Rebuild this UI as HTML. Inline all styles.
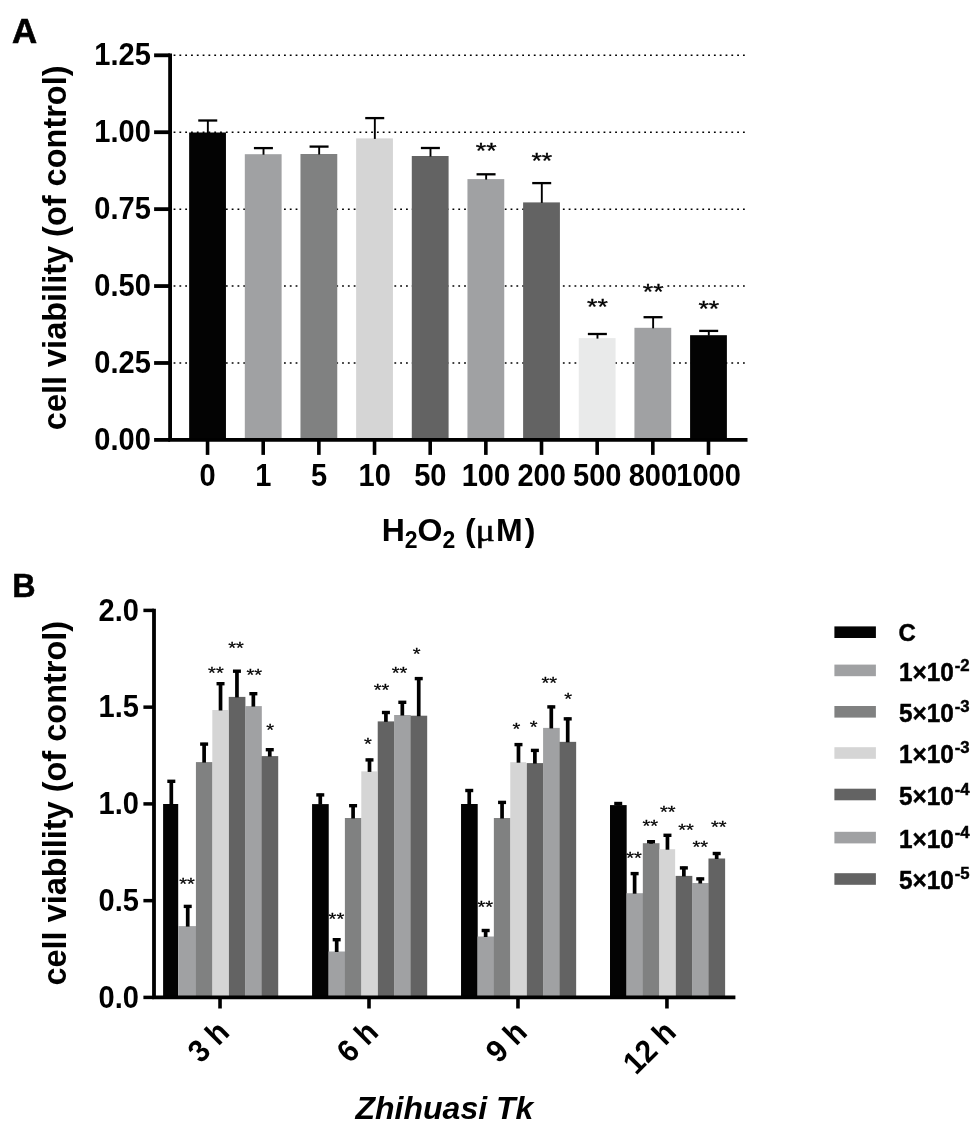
<!DOCTYPE html>
<html lang="en"><head><meta charset="utf-8"><title>Figure</title>
<style>html,body{margin:0;padding:0;background:#fff}svg{display:block;will-change:transform}</style></head>
<body>
<svg width="975" height="1125" viewBox="0 0 975 1125" font-family='"Liberation Sans", Arial, Helvetica, sans-serif' font-weight="bold" fill="#000">
<rect width="975" height="1125" fill="#fff"/>
<text transform="translate(11.90,42.80) scale(1.04,1.02)" font-size="33.5" text-anchor="start" stroke="#000" stroke-width="0.6">A</text>
<text transform="translate(12.30,596.80) scale(0.97,1.02)" font-size="33.3" text-anchor="start" stroke="#000" stroke-width="0.5">B</text>
<g id="panelA">
<line x1="173.6" y1="362.98" x2="747.4" y2="362.98" stroke="#000" stroke-width="1.5" stroke-dasharray="1.8 4.01"/>
<line x1="173.6" y1="286.06" x2="747.4" y2="286.06" stroke="#000" stroke-width="1.5" stroke-dasharray="1.8 4.01"/>
<line x1="173.6" y1="209.14" x2="747.4" y2="209.14" stroke="#000" stroke-width="1.5" stroke-dasharray="1.8 4.01"/>
<line x1="173.6" y1="132.22" x2="747.4" y2="132.22" stroke="#000" stroke-width="1.5" stroke-dasharray="1.8 4.01"/>
<line x1="173.6" y1="55.30" x2="747.4" y2="55.30" stroke="#000" stroke-width="1.5" stroke-dasharray="1.8 4.01"/>
<rect x="189.15" y="132.5" width="36.8" height="307.40" fill="#030303"/>
<path d="M207.85 133.0V120.5" stroke="#000" stroke-width="1.9" fill="none"/>
<path d="M198.25 120.5H217.25" stroke="#000" stroke-width="2.3" fill="none"/>
<rect x="244.81" y="154.2" width="36.8" height="285.70" fill="#a0a1a3"/>
<path d="M263.51 154.7V148.1" stroke="#000" stroke-width="1.9" fill="none"/>
<path d="M253.91 148.1H272.91" stroke="#000" stroke-width="2.3" fill="none"/>
<rect x="300.47" y="154.0" width="36.8" height="285.90" fill="#808181"/>
<path d="M319.17 154.5V146.6" stroke="#000" stroke-width="1.9" fill="none"/>
<path d="M309.57 146.6H328.57" stroke="#000" stroke-width="2.3" fill="none"/>
<rect x="356.13" y="138.4" width="36.8" height="301.50" fill="#d5d5d5"/>
<path d="M374.83 138.9V118.1" stroke="#000" stroke-width="1.9" fill="none"/>
<path d="M365.23 118.1H384.23" stroke="#000" stroke-width="2.3" fill="none"/>
<rect x="411.79" y="156.0" width="36.8" height="283.90" fill="#636363"/>
<path d="M430.49 156.5V148.0" stroke="#000" stroke-width="1.9" fill="none"/>
<path d="M420.89 148.0H439.89" stroke="#000" stroke-width="2.3" fill="none"/>
<rect x="467.45" y="179.1" width="36.8" height="260.80" fill="#a0a1a3"/>
<path d="M486.15 179.6V174.3" stroke="#000" stroke-width="1.9" fill="none"/>
<path d="M476.55 174.3H495.55" stroke="#000" stroke-width="2.3" fill="none"/>
<text transform="translate(486.15,158.34) scale(1.09,0.88)" font-size="24.5" text-anchor="middle" font-weight="normal" stroke="#000" stroke-width="0.35">**</text>
<rect x="523.11" y="202.4" width="36.8" height="237.50" fill="#636363"/>
<path d="M541.81 202.9V183.1" stroke="#000" stroke-width="1.9" fill="none"/>
<path d="M532.21 183.1H551.21" stroke="#000" stroke-width="2.3" fill="none"/>
<text transform="translate(541.81,168.04) scale(1.09,0.88)" font-size="24.5" text-anchor="middle" font-weight="normal" stroke="#000" stroke-width="0.35">**</text>
<rect x="578.77" y="338.1" width="36.8" height="101.80" fill="#e9eaea"/>
<path d="M597.47 338.6V334.0" stroke="#000" stroke-width="1.9" fill="none"/>
<path d="M587.87 334.0H606.87" stroke="#000" stroke-width="2.3" fill="none"/>
<text transform="translate(597.47,314.34) scale(1.09,0.88)" font-size="24.5" text-anchor="middle" font-weight="normal" stroke="#000" stroke-width="0.35">**</text>
<rect x="634.43" y="327.8" width="36.8" height="112.10" fill="#a0a1a3"/>
<path d="M653.13 328.3V317.2" stroke="#000" stroke-width="1.9" fill="none"/>
<path d="M643.53 317.2H662.53" stroke="#000" stroke-width="2.3" fill="none"/>
<rect x="639.83" y="280.9" width="26" height="12" fill="#fff"/>
<text transform="translate(653.13,298.94) scale(1.09,0.88)" font-size="24.5" text-anchor="middle" font-weight="normal" stroke="#000" stroke-width="0.35">**</text>
<rect x="690.09" y="335.2" width="36.8" height="104.70" fill="#030303"/>
<path d="M708.79 335.7V330.9" stroke="#000" stroke-width="1.9" fill="none"/>
<path d="M699.19 330.9H718.19" stroke="#000" stroke-width="2.3" fill="none"/>
<text transform="translate(708.79,316.44) scale(1.09,0.88)" font-size="24.5" text-anchor="middle" font-weight="normal" stroke="#000" stroke-width="0.35">**</text>
<path d="M170.1 53.4V441.79999999999995M168.2 439.9H747.5" stroke="#000" stroke-width="3.8" fill="none"/>
<line x1="154.1" y1="439.90" x2="170.1" y2="439.90" stroke="#000" stroke-width="3.8"/>
<text transform="translate(150.90,449.90) scale(0.985,1.065)" font-size="29.5" text-anchor="end">0.00</text>
<line x1="154.1" y1="362.98" x2="170.1" y2="362.98" stroke="#000" stroke-width="3.8"/>
<text transform="translate(150.90,372.98) scale(0.985,1.065)" font-size="29.5" text-anchor="end">0.25</text>
<line x1="154.1" y1="286.06" x2="170.1" y2="286.06" stroke="#000" stroke-width="3.8"/>
<text transform="translate(150.90,296.06) scale(0.985,1.065)" font-size="29.5" text-anchor="end">0.50</text>
<line x1="154.1" y1="209.14" x2="170.1" y2="209.14" stroke="#000" stroke-width="3.8"/>
<text transform="translate(150.90,219.14) scale(0.985,1.065)" font-size="29.5" text-anchor="end">0.75</text>
<line x1="154.1" y1="132.22" x2="170.1" y2="132.22" stroke="#000" stroke-width="3.8"/>
<text transform="translate(150.90,142.22) scale(0.985,1.065)" font-size="29.5" text-anchor="end">1.00</text>
<line x1="154.1" y1="55.30" x2="170.1" y2="55.30" stroke="#000" stroke-width="3.8"/>
<text transform="translate(150.90,65.30) scale(0.985,1.065)" font-size="29.5" text-anchor="end">1.25</text>
<line x1="207.55" y1="439.9" x2="207.55" y2="454.9" stroke="#000" stroke-width="3.6"/>
<text transform="translate(207.65,486.40) scale(0.985,1.065)" font-size="29.5" text-anchor="middle">0</text>
<line x1="263.21" y1="439.9" x2="263.21" y2="454.9" stroke="#000" stroke-width="3.6"/>
<text transform="translate(263.31,486.40) scale(0.985,1.065)" font-size="29.5" text-anchor="middle">1</text>
<line x1="318.87" y1="439.9" x2="318.87" y2="454.9" stroke="#000" stroke-width="3.6"/>
<text transform="translate(318.97,486.40) scale(0.985,1.065)" font-size="29.5" text-anchor="middle">5</text>
<line x1="374.53" y1="439.9" x2="374.53" y2="454.9" stroke="#000" stroke-width="3.6"/>
<text transform="translate(374.63,486.40) scale(0.985,1.065)" font-size="29.5" text-anchor="middle">10</text>
<line x1="430.19" y1="439.9" x2="430.19" y2="454.9" stroke="#000" stroke-width="3.6"/>
<text transform="translate(430.29,486.40) scale(0.985,1.065)" font-size="29.5" text-anchor="middle">50</text>
<line x1="485.85" y1="439.9" x2="485.85" y2="454.9" stroke="#000" stroke-width="3.6"/>
<text transform="translate(485.95,486.40) scale(0.985,1.065)" font-size="29.5" text-anchor="middle">100</text>
<line x1="541.51" y1="439.9" x2="541.51" y2="454.9" stroke="#000" stroke-width="3.6"/>
<text transform="translate(541.61,486.40) scale(0.985,1.065)" font-size="29.5" text-anchor="middle">200</text>
<line x1="597.17" y1="439.9" x2="597.17" y2="454.9" stroke="#000" stroke-width="3.6"/>
<text transform="translate(597.27,486.40) scale(0.985,1.065)" font-size="29.5" text-anchor="middle">500</text>
<line x1="652.83" y1="439.9" x2="652.83" y2="454.9" stroke="#000" stroke-width="3.6"/>
<text transform="translate(652.93,486.40) scale(0.985,1.065)" font-size="29.5" text-anchor="middle">800</text>
<line x1="708.49" y1="439.9" x2="708.49" y2="454.9" stroke="#000" stroke-width="3.6"/>
<text transform="translate(708.59,486.40) scale(0.985,1.065)" font-size="29.5" text-anchor="middle">1000</text>
<text transform="translate(66.2,247.8) rotate(-90)" font-size="32.5" text-anchor="middle">cell viability (of control)</text>
<text font-size="32" y="540.6"><tspan x="381.7">H</tspan><tspan font-size="23" dy="7.1">2</tspan><tspan dy="-7.1">O</tspan><tspan font-size="23" dy="7.1">2</tspan><tspan dy="-7.1" x="465">(</tspan><tspan x="496">M</tspan><tspan x="524.8">)</tspan></text>
<text transform="translate(475.6,540.6) scale(1.13,1)" font-size="32" font-weight="normal" stroke="#000" stroke-width="0.5" font-family="'Liberation Serif', 'DejaVu Serif', serif">μ</text>
</g>
<g id="panelB">
<rect x="163.10" y="804.00" width="15.10" height="193.40" fill="#030303"/>
<path d="M171.31 804.50V780.10" stroke="#000" stroke-width="3.7" fill="none"/>
<path d="M167.31 781.30H175.31" stroke="#000" stroke-width="3.4" fill="none"/>
<rect x="178.20" y="926.10" width="17.91" height="71.30" fill="#a0a1a3"/>
<path d="M187.72 926.60V905.20" stroke="#000" stroke-width="3.7" fill="none"/>
<path d="M183.72 906.40H191.72" stroke="#000" stroke-width="3.4" fill="none"/>
<rect x="195.92" y="762.10" width="16.66" height="235.30" fill="#808181"/>
<path d="M204.12 762.60V742.90" stroke="#000" stroke-width="3.7" fill="none"/>
<path d="M200.12 744.10H208.12" stroke="#000" stroke-width="3.4" fill="none"/>
<rect x="212.33" y="710.00" width="15.91" height="287.40" fill="#d5d5d5"/>
<path d="M220.53 710.50V682.50" stroke="#000" stroke-width="3.7" fill="none"/>
<path d="M216.53 683.70H224.53" stroke="#000" stroke-width="3.4" fill="none"/>
<rect x="228.74" y="696.90" width="16.66" height="300.50" fill="#636363"/>
<path d="M236.95 697.40V670.00" stroke="#000" stroke-width="3.7" fill="none"/>
<path d="M232.95 671.20H240.95" stroke="#000" stroke-width="3.4" fill="none"/>
<rect x="245.15" y="706.10" width="16.66" height="291.30" fill="#a0a1a3"/>
<path d="M253.35 706.60V692.50" stroke="#000" stroke-width="3.7" fill="none"/>
<path d="M249.35 693.70H257.36" stroke="#000" stroke-width="3.4" fill="none"/>
<rect x="261.56" y="756.10" width="16.66" height="241.30" fill="#636363"/>
<path d="M269.76 756.60V748.50" stroke="#000" stroke-width="3.7" fill="none"/>
<path d="M265.76 749.70H273.76" stroke="#000" stroke-width="3.4" fill="none"/>
<rect x="312.07" y="804.10" width="16.66" height="193.30" fill="#030303"/>
<path d="M320.27 804.60V793.70" stroke="#000" stroke-width="3.7" fill="none"/>
<path d="M316.27 794.90H324.27" stroke="#000" stroke-width="3.4" fill="none"/>
<rect x="328.48" y="951.50" width="16.66" height="45.90" fill="#a0a1a3"/>
<path d="M336.69 952.00V938.50" stroke="#000" stroke-width="3.7" fill="none"/>
<path d="M332.69 939.70H340.69" stroke="#000" stroke-width="3.4" fill="none"/>
<rect x="344.89" y="818.00" width="16.66" height="179.40" fill="#808181"/>
<path d="M353.09 818.50V804.50" stroke="#000" stroke-width="3.7" fill="none"/>
<path d="M349.09 805.70H357.09" stroke="#000" stroke-width="3.4" fill="none"/>
<rect x="361.30" y="771.40" width="15.91" height="226.00" fill="#d5d5d5"/>
<path d="M369.50 771.90V758.70" stroke="#000" stroke-width="3.7" fill="none"/>
<path d="M365.50 759.90H373.50" stroke="#000" stroke-width="3.4" fill="none"/>
<rect x="377.71" y="721.40" width="16.66" height="276.00" fill="#636363"/>
<path d="M385.91 721.90V711.30" stroke="#000" stroke-width="3.7" fill="none"/>
<path d="M381.91 712.50H389.91" stroke="#000" stroke-width="3.4" fill="none"/>
<rect x="394.12" y="715.00" width="16.66" height="282.40" fill="#a0a1a3"/>
<path d="M402.32 715.50V701.10" stroke="#000" stroke-width="3.7" fill="none"/>
<path d="M398.32 702.30H406.32" stroke="#000" stroke-width="3.4" fill="none"/>
<rect x="410.53" y="715.70" width="16.66" height="281.70" fill="#636363"/>
<path d="M418.73 716.20V677.40" stroke="#000" stroke-width="3.7" fill="none"/>
<path d="M414.73 678.60H422.73" stroke="#000" stroke-width="3.4" fill="none"/>
<rect x="461.04" y="804.00" width="16.66" height="193.40" fill="#030303"/>
<path d="M469.24 804.50V789.30" stroke="#000" stroke-width="3.7" fill="none"/>
<path d="M465.24 790.50H473.24" stroke="#000" stroke-width="3.4" fill="none"/>
<rect x="477.45" y="936.50" width="16.66" height="60.90" fill="#a0a1a3"/>
<path d="M485.65 937.00V929.30" stroke="#000" stroke-width="3.7" fill="none"/>
<path d="M481.65 930.50H489.65" stroke="#000" stroke-width="3.4" fill="none"/>
<rect x="493.86" y="818.00" width="16.66" height="179.40" fill="#808181"/>
<path d="M502.06 818.50V801.20" stroke="#000" stroke-width="3.7" fill="none"/>
<path d="M498.06 802.40H506.06" stroke="#000" stroke-width="3.4" fill="none"/>
<rect x="510.27" y="762.20" width="15.91" height="235.20" fill="#d5d5d5"/>
<path d="M518.48 762.70V743.40" stroke="#000" stroke-width="3.7" fill="none"/>
<path d="M514.48 744.60H522.48" stroke="#000" stroke-width="3.4" fill="none"/>
<rect x="526.68" y="763.10" width="16.66" height="234.30" fill="#636363"/>
<path d="M534.88 763.60V749.20" stroke="#000" stroke-width="3.7" fill="none"/>
<path d="M530.88 750.40H538.88" stroke="#000" stroke-width="3.4" fill="none"/>
<rect x="543.09" y="727.90" width="16.66" height="269.50" fill="#a0a1a3"/>
<path d="M551.29 728.40V705.70" stroke="#000" stroke-width="3.7" fill="none"/>
<path d="M547.29 706.90H555.29" stroke="#000" stroke-width="3.4" fill="none"/>
<rect x="559.50" y="741.85" width="16.66" height="255.55" fill="#636363"/>
<path d="M567.71 742.35V717.65" stroke="#000" stroke-width="3.7" fill="none"/>
<path d="M563.71 718.85H571.71" stroke="#000" stroke-width="3.4" fill="none"/>
<rect x="610.01" y="805.10" width="16.66" height="192.30" fill="#030303"/>
<path d="M618.22 805.60V802.30" stroke="#000" stroke-width="3.7" fill="none"/>
<path d="M614.22 803.50H622.22" stroke="#000" stroke-width="3.4" fill="none"/>
<rect x="626.42" y="893.20" width="16.66" height="104.20" fill="#a0a1a3"/>
<path d="M634.62 893.70V872.40" stroke="#000" stroke-width="3.7" fill="none"/>
<path d="M630.62 873.60H638.62" stroke="#000" stroke-width="3.4" fill="none"/>
<rect x="642.83" y="843.20" width="16.66" height="154.20" fill="#808181"/>
<path d="M651.04 843.70V840.50" stroke="#000" stroke-width="3.7" fill="none"/>
<path d="M647.04 841.70H655.04" stroke="#000" stroke-width="3.4" fill="none"/>
<rect x="659.24" y="849.20" width="15.91" height="148.20" fill="#d5d5d5"/>
<path d="M667.45 849.70V834.10" stroke="#000" stroke-width="3.7" fill="none"/>
<path d="M663.45 835.30H671.45" stroke="#000" stroke-width="3.4" fill="none"/>
<rect x="675.65" y="875.90" width="16.66" height="121.50" fill="#636363"/>
<path d="M683.86 876.40V866.70" stroke="#000" stroke-width="3.7" fill="none"/>
<path d="M679.86 867.90H687.86" stroke="#000" stroke-width="3.4" fill="none"/>
<rect x="692.06" y="883.00" width="16.66" height="114.40" fill="#a0a1a3"/>
<path d="M700.26 883.50V877.70" stroke="#000" stroke-width="3.7" fill="none"/>
<path d="M696.26 878.90H704.26" stroke="#000" stroke-width="3.4" fill="none"/>
<rect x="708.47" y="858.50" width="16.66" height="138.90" fill="#636363"/>
<path d="M716.68 859.00V852.30" stroke="#000" stroke-width="3.7" fill="none"/>
<path d="M712.68 853.50H720.68" stroke="#000" stroke-width="3.4" fill="none"/>
<text transform="translate(187.10,890.48) scale(1.04,0.86)" font-size="19.3" text-anchor="middle" font-weight="normal" stroke="#000" stroke-width="0.3">**</text>
<text transform="translate(215.90,679.08) scale(1.04,0.86)" font-size="19.3" text-anchor="middle" font-weight="normal" stroke="#000" stroke-width="0.3">**</text>
<text transform="translate(236.00,654.38) scale(1.04,0.86)" font-size="19.3" text-anchor="middle" font-weight="normal" stroke="#000" stroke-width="0.3">**</text>
<text transform="translate(254.20,680.78) scale(1.04,0.86)" font-size="19.3" text-anchor="middle" font-weight="normal" stroke="#000" stroke-width="0.3">**</text>
<text transform="translate(270.10,735.78) scale(1.04,0.86)" font-size="19.3" text-anchor="middle" font-weight="normal" stroke="#000" stroke-width="0.3">*</text>
<text transform="translate(336.40,925.28) scale(1.04,0.86)" font-size="19.3" text-anchor="middle" font-weight="normal" stroke="#000" stroke-width="0.3">**</text>
<text transform="translate(367.80,750.38) scale(1.04,0.86)" font-size="19.3" text-anchor="middle" font-weight="normal" stroke="#000" stroke-width="0.3">*</text>
<text transform="translate(381.60,696.28) scale(1.04,0.86)" font-size="19.3" text-anchor="middle" font-weight="normal" stroke="#000" stroke-width="0.3">**</text>
<text transform="translate(399.50,679.38) scale(1.04,0.86)" font-size="19.3" text-anchor="middle" font-weight="normal" stroke="#000" stroke-width="0.3">**</text>
<text transform="translate(416.60,660.38) scale(1.04,0.86)" font-size="19.3" text-anchor="middle" font-weight="normal" stroke="#000" stroke-width="0.3">*</text>
<text transform="translate(485.20,913.38) scale(1.04,0.86)" font-size="19.3" text-anchor="middle" font-weight="normal" stroke="#000" stroke-width="0.3">**</text>
<text transform="translate(516.50,734.53) scale(1.04,0.86)" font-size="19.3" text-anchor="middle" font-weight="normal" stroke="#000" stroke-width="0.3">*</text>
<text transform="translate(533.70,733.48) scale(1.04,0.86)" font-size="19.3" text-anchor="middle" font-weight="normal" stroke="#000" stroke-width="0.3">*</text>
<text transform="translate(549.20,689.28) scale(1.04,0.86)" font-size="19.3" text-anchor="middle" font-weight="normal" stroke="#000" stroke-width="0.3">**</text>
<text transform="translate(568.20,705.08) scale(1.04,0.86)" font-size="19.3" text-anchor="middle" font-weight="normal" stroke="#000" stroke-width="0.3">*</text>
<text transform="translate(634.10,863.58) scale(1.04,0.86)" font-size="19.3" text-anchor="middle" font-weight="normal" stroke="#000" stroke-width="0.3">**</text>
<text transform="translate(650.20,831.68) scale(1.04,0.86)" font-size="19.3" text-anchor="middle" font-weight="normal" stroke="#000" stroke-width="0.3">**</text>
<text transform="translate(667.70,818.38) scale(1.04,0.86)" font-size="19.3" text-anchor="middle" font-weight="normal" stroke="#000" stroke-width="0.3">**</text>
<text transform="translate(686.10,836.28) scale(1.04,0.86)" font-size="19.3" text-anchor="middle" font-weight="normal" stroke="#000" stroke-width="0.3">**</text>
<text transform="translate(700.30,852.78) scale(1.04,0.86)" font-size="19.3" text-anchor="middle" font-weight="normal" stroke="#000" stroke-width="0.3">**</text>
<text transform="translate(718.70,833.38) scale(1.04,0.86)" font-size="19.3" text-anchor="middle" font-weight="normal" stroke="#000" stroke-width="0.3">**</text>
<path d="M154.0 608.6999999999999V999.1999999999999M152.1 997.4H735.4" stroke="#000" stroke-width="3.8" fill="none"/>
<line x1="143.4" y1="997.40" x2="154.0" y2="997.40" stroke="#000" stroke-width="3.5"/>
<text transform="translate(138.90,1007.60) scale(0.985,1.065)" font-size="29.5" text-anchor="end">0.0</text>
<line x1="143.4" y1="900.65" x2="154.0" y2="900.65" stroke="#000" stroke-width="3.5"/>
<text transform="translate(138.90,910.85) scale(0.985,1.065)" font-size="29.5" text-anchor="end">0.5</text>
<line x1="143.4" y1="803.90" x2="154.0" y2="803.90" stroke="#000" stroke-width="3.5"/>
<text transform="translate(138.90,814.10) scale(0.985,1.065)" font-size="29.5" text-anchor="end">1.0</text>
<line x1="143.4" y1="707.15" x2="154.0" y2="707.15" stroke="#000" stroke-width="3.5"/>
<text transform="translate(138.90,717.35) scale(0.985,1.065)" font-size="29.5" text-anchor="end">1.5</text>
<line x1="143.4" y1="610.40" x2="154.0" y2="610.40" stroke="#000" stroke-width="3.5"/>
<text transform="translate(138.90,620.60) scale(0.985,1.065)" font-size="29.5" text-anchor="end">2.0</text>
<line x1="220.03" y1="997.4" x2="220.03" y2="1008.5" stroke="#000" stroke-width="3.6"/>
<text transform="translate(230.94,1034.0) rotate(-45) scale(1,1.065)" font-size="29.5" text-anchor="end">3 h</text>
<line x1="369.00" y1="997.4" x2="369.00" y2="1008.5" stroke="#000" stroke-width="3.6"/>
<text transform="translate(379.90,1034.0) rotate(-45) scale(1,1.065)" font-size="29.5" text-anchor="end">6 h</text>
<line x1="517.97" y1="997.4" x2="517.97" y2="1008.5" stroke="#000" stroke-width="3.6"/>
<text transform="translate(528.87,1034.0) rotate(-45) scale(1,1.065)" font-size="29.5" text-anchor="end">9 h</text>
<line x1="666.94" y1="997.4" x2="666.94" y2="1008.5" stroke="#000" stroke-width="3.6"/>
<text transform="translate(677.84,1034.0) rotate(-45) scale(1,1.065)" font-size="29.5" text-anchor="end">12 h</text>
<text transform="translate(65.8,803.2) rotate(-90)" font-size="32.5" text-anchor="middle">cell viability (of control)</text>
<text x="444.4" y="1118.5" font-size="32" font-style="italic" text-anchor="middle">Zhihuasi Tk</text>
</g>
<g id="legend">
<rect x="834.4" y="626.40" width="41.5" height="11.6" fill="#030303"/>
<text transform="translate(898.6,640.70) scale(1,1.0)" font-size="24" stroke="#000" stroke-width="0.45">C</text>
<rect x="834.4" y="664.60" width="41.5" height="11.6" fill="#a0a1a3"/>
<text transform="translate(899,680.70) scale(1.015,1.05)" font-size="24" stroke="#000" stroke-width="0.45">1×10<tspan font-size="16.5" dx="0.8" dy="-9.6">-2</tspan></text>
<rect x="834.4" y="706.00" width="41.5" height="11.6" fill="#808181"/>
<text transform="translate(899,722.10) scale(1.015,1.05)" font-size="24" stroke="#000" stroke-width="0.45">5×10<tspan font-size="16.5" dx="0.8" dy="-9.6">-3</tspan></text>
<rect x="834.4" y="747.20" width="41.5" height="11.6" fill="#d5d5d5"/>
<text transform="translate(899,763.30) scale(1.015,1.05)" font-size="24" stroke="#000" stroke-width="0.45">1×10<tspan font-size="16.5" dx="0.8" dy="-9.6">-3</tspan></text>
<rect x="834.4" y="788.70" width="41.5" height="11.6" fill="#636363"/>
<text transform="translate(899,804.80) scale(1.015,1.05)" font-size="24" stroke="#000" stroke-width="0.45">5×10<tspan font-size="16.5" dx="0.8" dy="-9.6">-4</tspan></text>
<rect x="834.4" y="831.80" width="41.5" height="11.6" fill="#a0a1a3"/>
<text transform="translate(899,847.90) scale(1.015,1.05)" font-size="24" stroke="#000" stroke-width="0.45">1×10<tspan font-size="16.5" dx="0.8" dy="-9.6">-4</tspan></text>
<rect x="834.4" y="873.20" width="41.5" height="11.6" fill="#636363"/>
<text transform="translate(899,889.30) scale(1.015,1.05)" font-size="24" stroke="#000" stroke-width="0.45">5×10<tspan font-size="16.5" dx="0.8" dy="-9.6">-5</tspan></text>
</g>
</svg>
</body></html>
